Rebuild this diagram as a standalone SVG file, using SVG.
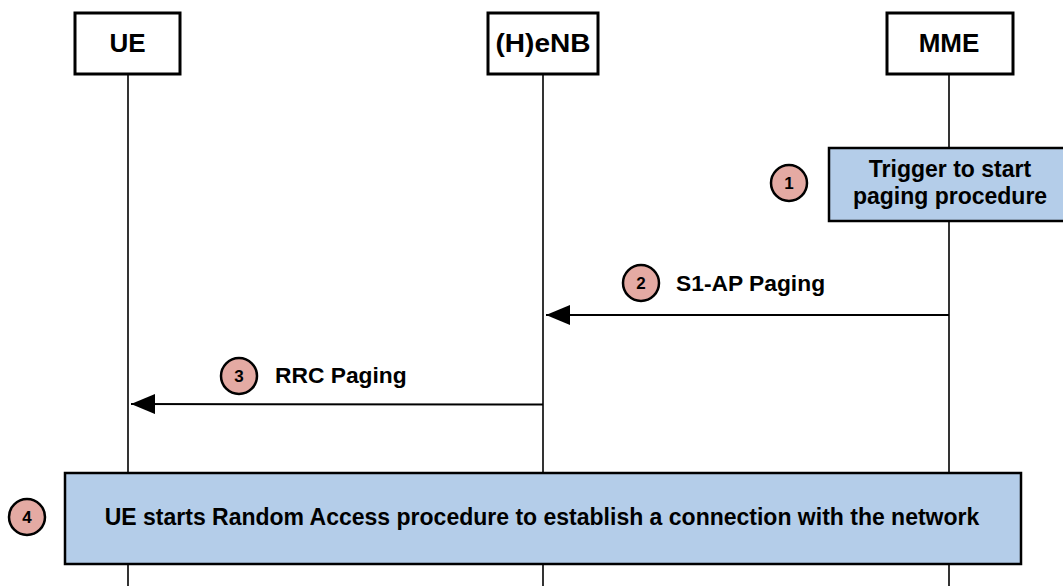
<svg xmlns="http://www.w3.org/2000/svg" width="1063" height="586" viewBox="0 0 1063 586">
  <style>
    .actor { fill: #ffffff; stroke: #000000; stroke-width: 3; }
    .actor-label { font-family: "Liberation Sans", Arial, sans-serif; font-weight: bold; font-size: 26px; fill: #000000; text-anchor: middle; }
    .lifeline { stroke: #000000; stroke-width: 1.6; fill: none; }
    .msg { stroke: #000000; stroke-width: 2; fill: none; }
    .msg-label { font-family: "Liberation Sans", Arial, sans-serif; font-weight: bold; font-size: 22.8px; fill: #000000; }
    .action { fill: #b4cde9; stroke: #000000; stroke-width: 2.5; }
    .action-label { font-family: "Liberation Sans", Arial, sans-serif; font-weight: bold; font-size: 23px; fill: #000000; text-anchor: middle; }
    .badge { fill: #e4aaa3; stroke: #000000; stroke-width: 2.5; }
    .badge-label { font-family: "Liberation Sans", Arial, sans-serif; font-weight: bold; font-size: 17px; fill: #000000; text-anchor: middle; }
  </style>
  <defs>
    <marker id="arrow" viewBox="0 0 24 20" refX="24" refY="10" markerWidth="24" markerHeight="20" markerUnits="userSpaceOnUse" orient="auto">
      <path d="M0,0 L24,10 L0,20 Z" fill="#000000"/>
    </marker>
  </defs>

  <rect width="1063" height="586" fill="#ffffff"/>

  <!-- lifelines -->
  <g id="lifelines">
    <line class="lifeline" x1="128" y1="74" x2="128" y2="586"/>
    <line class="lifeline" x1="543" y1="74" x2="543" y2="586"/>
    <line class="lifeline" x1="949" y1="74" x2="949" y2="586"/>
  </g>

  <!-- participants -->
  <g id="ue">
    <rect class="actor" x="75" y="13" width="105" height="61"/>
    <text class="actor-label" x="127.5" y="52">UE</text>
  </g>
  <g id="henb">
    <rect class="actor" x="488" y="13" width="110" height="61"/>
    <text class="actor-label" x="543" y="52" textLength="95" lengthAdjust="spacingAndGlyphs">(H)eNB</text>
  </g>
  <g id="mme">
    <rect class="actor" x="887" y="13" width="126" height="61"/>
    <text class="actor-label" x="949" y="52">MME</text>
  </g>

  <!-- step 1: paging trigger at the MME -->
  <g id="step1">
    <rect class="action" x="829" y="148" width="244" height="73"/>
    <text class="action-label" x="950" y="177">Trigger to start</text>
    <text class="action-label" x="950" y="204">paging procedure</text>
    <circle class="badge" cx="789" cy="183" r="18"/>
    <text class="badge-label" x="789" y="189">1</text>
  </g>

  <!-- messages -->
  <g id="connectors">
    <line class="msg" x1="949" y1="315" x2="546" y2="315" marker-end="url(#arrow)"/>
    <line class="msg" x1="543" y1="404.5" x2="131" y2="404" marker-end="url(#arrow)"/>
  </g>

  <g id="step2">
    <circle class="badge" cx="641" cy="283" r="18"/>
    <text class="badge-label" x="641" y="289">2</text>
    <text class="msg-label" x="676" y="291">S1-AP Paging</text>
  </g>

  <g id="step3">
    <circle class="badge" cx="239" cy="376" r="18"/>
    <text class="badge-label" x="239" y="382">3</text>
    <text class="msg-label" x="275" y="383">RRC Paging</text>
  </g>

  <!-- step 4: random access -->
  <g id="step4">
    <rect class="action" x="65" y="473" width="956" height="91"/>
    <text class="action-label" x="542" y="525">UE starts Random Access procedure to establish a connection with the network</text>
    <circle class="badge" cx="27" cy="517" r="18"/>
    <text class="badge-label" x="27" y="523">4</text>
  </g>
</svg>
